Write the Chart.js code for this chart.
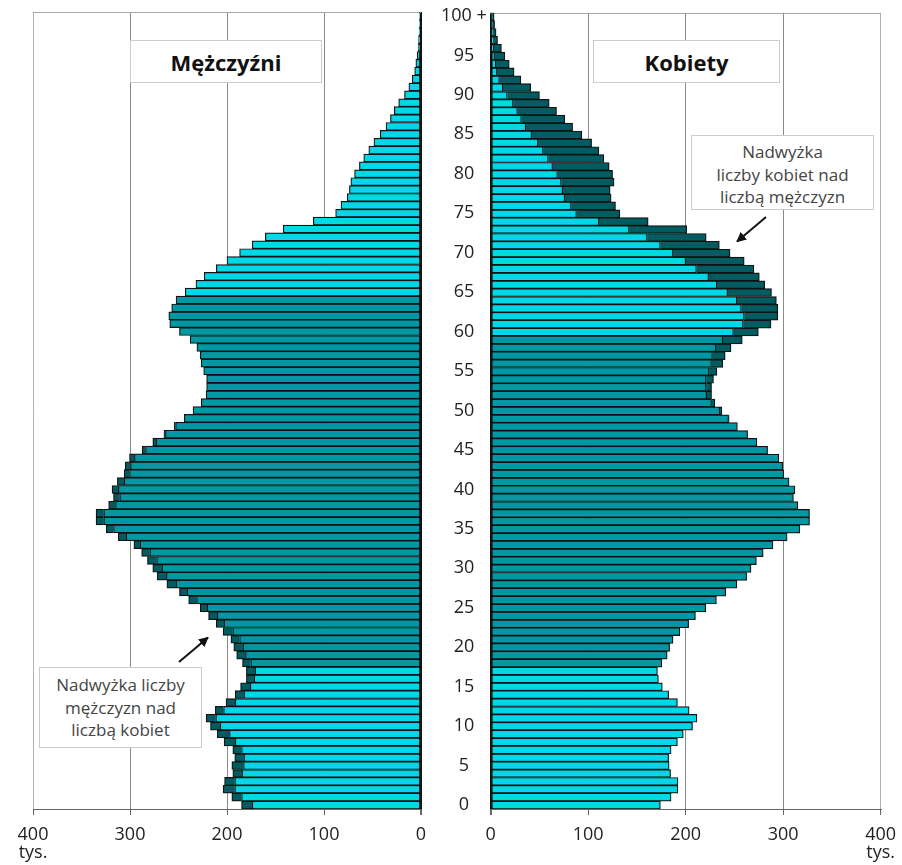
<!DOCTYPE html>
<html>
<head>
<meta charset="utf-8">
<script src="https://cdn.jsdelivr.net/npm/chart.js@4.4.0/dist/chart.umd.min.js"></script>
<style>
html,body{margin:0;padding:0;background:#fff;}
#wrap{position:relative;width:902px;height:865px;overflow:hidden;font-family:"Open Sans","Noto Sans",sans-serif;}
#cL{position:absolute;left:0;top:0;}
#cR{position:absolute;left:466px;top:0;}
.title{position:absolute;box-sizing:border-box;border:1px solid #cccccc;background:#fff;font-weight:700;font-size:22px;color:#111;display:flex;align-items:center;justify-content:center;}
.note{position:absolute;box-sizing:border-box;border:1px solid #cccccc;background:#fff;font-size:17px;line-height:22.5px;color:#444;text-align:center;padding-top:5px;}
svg{position:absolute;left:0;top:0;}
</style>
</head>
<body>
<div id="wrap">
<canvas id="cL" width="486" height="865" style="width:486px;height:865px"></canvas>
<canvas id="cR" width="436" height="865" style="width:436px;height:865px"></canvas>
<div class="title" style="left:130px;top:40px;width:192px;height:43px;">Mężczyźni</div>
<div class="title" style="left:593px;top:40px;width:187px;height:43px;">Kobiety</div>
<div class="note" style="left:691px;top:135px;width:183px;height:75px;">Nadwyżka<br>liczby kobiet nad<br>liczbą mężczyzn</div>
<div class="note" style="left:39px;top:667px;width:163px;height:81px;padding-top:6px;">Nadwyżka liczby<br>mężczyzn nad<br>liczbą kobiet</div>
<svg width="902" height="865">
<defs><marker id="ah" viewBox="0 0 10 10" refX="9" refY="5" markerWidth="5" markerHeight="5" orient="auto"><path d="M0,0 L10,5 L0,10 z" fill="#111"/></marker></defs>
<line x1="179" y1="662" x2="208" y2="637.5" stroke="#111" stroke-width="2" marker-end="url(#ah)"/>
<line x1="766" y1="217" x2="737" y2="241.5" stroke="#111" stroke-width="2" marker-end="url(#ah)"/>
</svg>
</div>
<script>
// Age categories (0 .. 100+)
const ages = ['0','1','2','3','4','5','6','7','8','9','10','11','12','13','14','15','16','17','18','19',
'20','21','22','23','24','25','26','27','28','29','30','31','32','33','34','35','36','37','38','39',
'40','41','42','43','44','45','46','47','48','49','50','51','52','53','54','55','56','57','58','59',
'60','61','62','63','64','65','66','67','68','69','70','71','72','73','74','75','76','77','78','79',
'80','81','82','83','84','85','86','87','88','89','90','91','92','93','94','95','96','97','98','99','100 +'];

// Men, thousands, age 0..100+
const men = [185,195,204,202.5,194,195,192,194,203,210,
217,221.5,212,201,191.5,186,180,180,184,190,
193,196,204,211,219,227.5,239.5,249,262,272,
276.5,282,288,296,312,324.5,335,335,322,317,
318.5,313,306,305,300.5,287.5,276.5,265,254.5,244,
235,226.5,221.5,221,221,224,226.5,227.5,231,238,
249,259,260,257,252.5,243,232,223.5,211,200,
187,174,160.5,142,111,88,82.5,76,73.8,72.3,
68.5,63.5,59,53.8,48.5,42,36,31.5,27.5,23,
17,12.5,9,6.5,5.3,4,3,2.5,2,1.5,1.5];

// Women, thousands, age 0..100+
const women = [174,185,192,192,184.5,183,182.5,185,191.5,197.5,
207,211.5,203.5,191.5,182.5,176,172,171,175.5,181,
183.5,187,194,203,210,220.5,231.5,241,252.5,262.5,
267,272.5,279.5,289.5,304,317,327,327,315,310.5,
312,306,300.5,299.5,295.5,284,273,263.5,253,244.5,
237,230,226.5,226.5,228.5,232,238,240.5,246.5,258,
274.5,287.5,294.5,294.5,293,288,281,275.5,270,260,
245.5,234.5,221,201,161.5,132.5,128,123.5,122.5,126.5,
125,121.5,116,111,103.5,93.5,84,76,67.5,60,
50,41,31,24,19,14.5,11,7,5.5,4,3.5];

// Axis ticks (thousands)
const xTicks = [0,100,200,300,400];
const unitLabel = 'tys.';

const FONT = '"Open Sans","Noto Sans",sans-serif';
const CYAN = '#00d8e8';
const TEAL = '#0099a3';
const DARK = '#005c61';

const topLine = {
  id:'topLine',
  beforeDatasetsDraw(chart){
    const {ctx, chartArea:a} = chart;
    ctx.save();
    ctx.strokeStyle = '#a8a8a8';
    ctx.lineWidth = 1;
    ctx.beginPath();
    ctx.moveTo(a.left, Math.round(a.top) + 0.5);
    ctx.lineTo(a.right, Math.round(a.top) + 0.5);
    ctx.stroke();
    ctx.restore();
  }
};

function makeChart(id, own, other, workTo, isLeft){
  const common = own.map((v,i)=>Math.min(v, other[i]));
  const excess = own.map((v,i)=> v > other[i] ? v - other[i] : null);
  return new Chart(document.getElementById(id), {
    type:'bar',
    data:{
      labels: ages,
      datasets:[
        {data:common, backgroundColor:(c)=>{const a=c.dataIndex; return (a>=18 && a<=workTo)?TEAL:CYAN;},
         borderColor:'#111', borderWidth:1.2, borderSkipped:false, barPercentage:1, categoryPercentage:1},
        {data:excess, backgroundColor:DARK, borderColor:'#111', borderWidth:1.2, borderSkipped:'start',
         barPercentage:1, categoryPercentage:1}
      ]
    },
    options:{
      indexAxis:'y',
      responsive:false,
      animation:false,
      layout:{padding: isLeft ? {top:12,left:33,right:0,bottom:0} : {top:12.7,left:24.7,right:21.3,bottom:0}},
      plugins:{legend:{display:false}, tooltip:{enabled:false}},
      scales:{
        x:{
          type:'linear', min:0, max:400, reverse:isLeft, stacked:true,
          afterBuildTicks:(s)=>{ s.ticks = xTicks.map(v=>({value:v})); },
          ticks:{padding:11, color:'#222', maxRotation:0, autoSkip:false,
                 font:{family:FONT, size:18, lineHeight:1},
                 callback:(v)=> v===400 ? ['400', unitLabel] : String(v)},
          grid:{
            color:(c)=> c.tick && c.tick.value===0 ? '#111' : (c.tick && c.tick.value===400 ? '#b0b0b0' : '#8a8a8a'),
            lineWidth:(c)=> c.tick && c.tick.value===0 ? 2 : 1,
            tickLength:6, tickColor:'#666', drawTicks:true
          },
          border:{display:true, color:'#666', width:1},
          afterFit:(s)=>{ s.height = 56; s.paddingLeft = 0; s.paddingRight = 0; }
        },
        y:{
          type:'category', reverse:true, stacked:true, position:'right', offset:true,
          display: isLeft,
          grid:{display:false}, border:{display:false},
          ticks:{autoSkip:false, padding:12, crossAlign:'center', color:'#222',
                 font:{family:FONT, size:18, lineHeight:1},
                 callback:function(v,i){ return i%5===0 ? this.getLabelForValue(v) : ''; }},
          afterFit:(s)=>{ s.width = isLeft ? 65 : 0; s.paddingTop = 0; s.paddingBottom = 0; }
        }
      }
    },
    plugins:[topLine]
  });
}

makeChart('cL', men, women, 64, true);
makeChart('cR', women, men, 59, false);
</script>
</body>
</html>
